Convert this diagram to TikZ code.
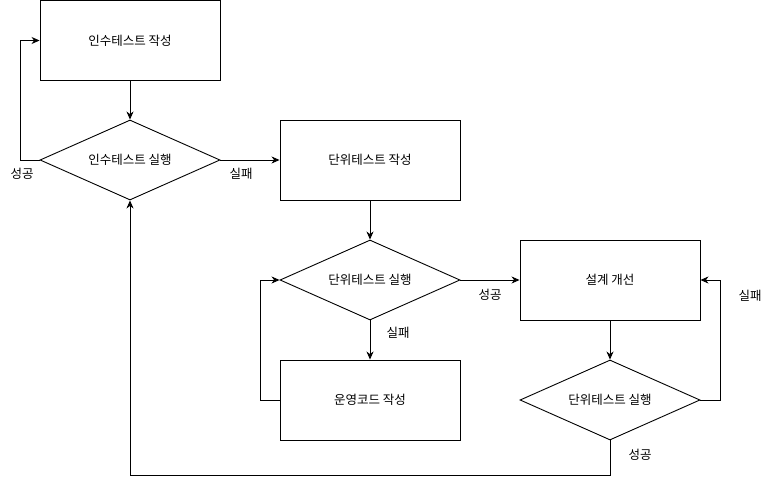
\documentclass[tikz,border=0pt]{standalone}
\usepackage{fontspec}
\setmainfont{Noto Sans CJK KR}
\usetikzlibrary{shapes.geometric,arrows.meta}
\begin{document}
\begin{tikzpicture}[x=1pt,y=-1pt,
  every node/.style={font=\fontsize{12.5}{15}\selectfont},
  procbox/.style={draw,line width=0.9pt,minimum width=180pt,minimum height=80pt,inner sep=0pt,anchor=center},
  decision/.style={draw,line width=0.9pt,diamond,aspect=2.25,minimum width=180pt,minimum height=80pt,inner sep=0pt,anchor=center},
  conn/.style={line width=0.9pt,-{Stealth[length=8pt,width=7pt,inset=2.5pt]}},
  lbl/.style={inner sep=0pt}]
\useasboundingbox (0,0) rectangle (781,489);
\node[procbox] (at1) at (130,40.5) {인수테스트 작성};
\node[decision] (ar1) at (130,160) {인수테스트 실행};
\node[procbox] (ut1) at (370,160) {단위테스트 작성};
\node[decision] (ur1) at (370,280) {단위테스트 실행};
\node[procbox] (code) at (370,400) {운영코드 작성};
\node[procbox] (design) at (610,280) {설계 개선};
\node[decision] (ur2) at (610,400) {단위테스트 실행};
\coordinate (c1) at (20,160);
\coordinate (c2) at (20,40.5);
\coordinate (c3) at (260,400);
\coordinate (c4) at (260,280);
\coordinate (c5) at (720,400);
\coordinate (c6) at (720,280);
\coordinate (c7) at (610,475);
\coordinate (c8) at (130,475);
\draw[conn] (at1.south) -- (ar1.north);
\draw[conn] (ar1.west) -- (c1) -- (c2) -- (at1.west);
\draw[conn] (ar1.east) -- (ut1.west);
\draw[conn] (ut1.south) -- (ur1.north);
\draw[conn] (ur1.south) -- (code.north);
\draw[conn] (code.west) -- (c3) -- (c4) -- (ur1.west);
\draw[conn] (ur1.east) -- (design.west);
\draw[conn] (design.south) -- (ur2.north);
\draw[conn] (ur2.east) -- (c5) -- (c6) -- (design.east);
\draw[conn] (ur2.south) -- (c7) -- (c8) -- (ar1.south);
\node[lbl] (l1) at (22,174) {성공};
\node[lbl] (l2) at (241,174) {실패};
\node[lbl] (l3) at (398,333) {실패};
\node[lbl] (l4) at (490,295) {성공};
\node[lbl] (l5) at (750,296) {실패};
\node[lbl] (l6) at (640,455) {성공};
\end{tikzpicture}
\end{document}
